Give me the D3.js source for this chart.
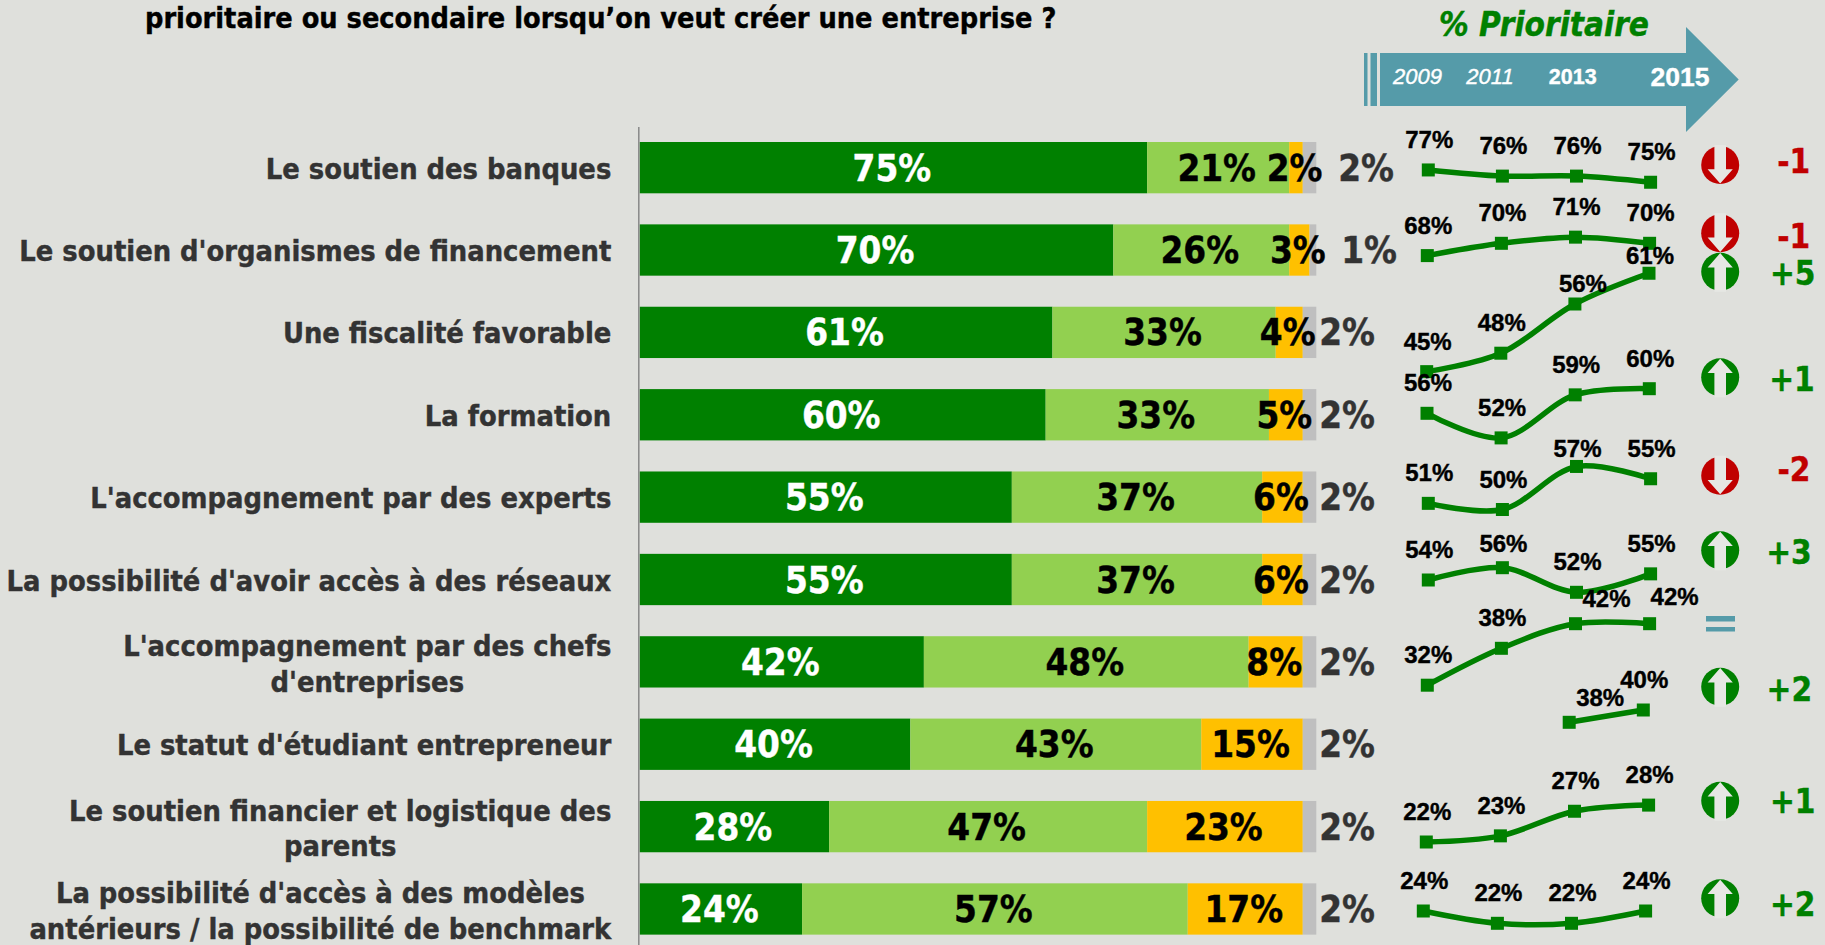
<!DOCTYPE html>
<html>
<head>
<meta charset="utf-8">
<title>% Prioritaire</title>
<style>
body{margin:0;background-color:#dfe0dc;overflow:hidden}
text{font-family:"DejaVu Sans Condensed","DejaVu Sans";font-stretch:condensed;font-weight:bold}
.arial{font-family:"Liberation Sans";font-stretch:normal}
</style>
<script src="https://d3js.org/d3.v7.min.js"></script>
</head>
<body>
<div id="chart"></div>
<script>
// data
var categories = [
    "Le soutien des banques",
    "Le soutien d'organismes de financement",
    "Une fiscalité favorable",
    "La formation",
    "L'accompagnement par des experts",
    "La possibilité d'avoir accès à des réseaux",
    "L'accompagnement par des chefs|d'entreprises",
    "Le statut d'étudiant entrepreneur",
    "Le soutien financier et logistique des|parents",
    "La possibilité d'accès à des modèles|antérieurs / la possibilité de benchmark"
];
var prioritaire = [75, 70, 61, 60, 55, 55, 42, 40, 28, 24];
var secondaire = [21, 26, 33, 33, 37, 37, 48, 43, 47, 57];
var pasPrioritaire = [2, 3, 4, 5, 6, 6, 8, 15, 23, 17];
var nsp = [2, 1, 2, 2, 2, 2, 2, 2, 2, 2];

var years = ["2009", "2011", "2013", "2015"];
var trend = [
    [77, 76, 76, 75],
    [68, 70, 71, 70],
    [45, 48, 56, 61],
    [56, 52, 59, 60],
    [51, 50, 57, 55],
    [54, 56, 52, 55],
    [32, 38, 42, 42],
    [null, null, 38, 40],
    [22, 23, 27, 28],
    [24, 22, 22, 24]
];
var deltas = ["-1", "-1", "+5", "+1", "-2", "+3", "=", "+2", "+1", "+2"];

// layout
var width = 1825, height = 945;
var colors = ["#008000", "#92d050", "#ffc000", "#bfbfbf"];
var textColors = ["#fff", "#000", "#000", "#333"];
var teal = "#559ba9";
var lineBase = [643.5, 673.8, 648.4, 757.7, 817, 912.1, 882, 956, 977.3, 1058.6]; // y of 0% for each little line
var lineShift = [1.3, 0.3, -0.3, 0, 1.3, 1.3, 0.3, -6, -0.7, -3.7];
var badgeY = [165, 233.3, 271.7, 377.3, 475.7, 550.3, 623.5, 686.7, 800.7, 898.3];
var deltaY = [172.7, 248.3, 285.3, 390.7, 480.7, 564, 0, 700.7, 813.3, 916];
var deltaX = [1793.7, 1793.7, 1792.7, 1792, 1794, 1789, 0, 1789.3, 1792.7, 1792.7];
var nspX = [1366, 1369, 1347, 1347, 1347, 1347, 1347, 1347, 1347, 1347];
// labels that were moved by hand in the original: "row,point": [dx, dy]
var labelMoves = {"2,2": [7, 10], "2,3": [0, 13], "4,2": [0, 13], "5,1": [0, 6], "6,2": [30, 5], "6,3": [24, 3], "7,2": [30, 6]};

var svg = d3.select("#chart").append("svg")
    .attr("width", width)
    .attr("height", height)
    .style("display", "block");

var x = d3.scaleLinear().domain([0, 100]).range([639.7, 1316.3]);
var step = 82.37, barH = 51.3;
var y = d3.scaleBand().domain(categories)
    .range([142 - (step - barH) / 2, 142 - (step - barH) / 2 + step * 10])
    .paddingInner((step - barH) / step)
    .paddingOuter((step - barH) / step / 2);
var xYear = d3.scalePoint().domain(years).range([1427, 1649.3]);

// title
svg.append("text")
    .attr("x", 145)
    .attr("y", 28)
    .attr("font-size", 28.6)
    .attr("fill", "#000")
    .text("prioritaire ou secondaire lorsqu’on veut créer une entreprise ?");

// stacked bars
var series = [prioritaire, secondaire, pasPrioritaire, nsp];
var rows = categories.map(function(c, i) {
    var sum = 0;
    return series.map(function(s, k) {
        var seg = {cat: c, row: i, k: k, v: s[i], x0: sum, x1: sum + s[i]};
        sum += s[i];
        return seg;
    });
});
var segs = d3.merge(rows);

svg.selectAll("rect.seg").data(segs).enter().append("rect")
    .attr("class", "seg")
    .attr("x", function(d) { return x(d.x0); })
    .attr("y", function(d) { return y(d.cat); })
    .attr("width", function(d) { return x(d.x1) - x(d.x0); })
    .attr("height", y.bandwidth())
    .attr("fill", function(d) { return colors[d.k]; });

svg.selectAll("text.seg").data(segs).enter().append("text")
    .attr("class", "seg")
    .attr("text-anchor", "middle")
    .attr("font-size", 36.5)
    .attr("x", function(d) { return d.k == 3 ? nspX[d.row] : (x(d.x0) + x(d.x1)) / 2 - 1.5; })
    .attr("y", function(d) { return y(d.cat) + y.bandwidth() / 2 + 13; })
    .attr("fill", function(d) { return textColors[d.k]; })
    .text(function(d) { return d.v + "%"; });

// category axis
var axis = svg.append("g")
    .attr("transform", "translate(638.3,0)")
    .call(d3.axisLeft(y).tickSize(0).tickPadding(27));
axis.select(".domain").attr("stroke", "#888").attr("stroke-width", 1.5);
axis.selectAll("text")
    .attr("font-family", null)
    .attr("font-size", 28.75)
    .attr("fill", "#333")
    .each(function(d) {
        var parts = d.split("|");
        var t = d3.select(this).text(null).attr("dy", null);
        var spans = parts.map(function(p, i) {
            return t.append("tspan")
                .attr("y", parts.length > 1 ? (i - 0.5) * 35.5 + 12 : 11)
                .text(p);
        });
        // two line labels are centred on their longest line
        var maxW = d3.max(spans, function(s) { return s.node().getComputedTextLength(); });
        if (parts.length > 1) t.attr("text-anchor", "middle");
        spans.forEach(function(s) { s.attr("x", parts.length > 1 ? -27 - maxW / 2 : -27); });
    });

// arrow header
var arrowG = svg.append("g").attr("fill", teal);
arrowG.append("rect").attr("x", 1364).attr("y", 53).attr("width", 3.5).attr("height", 53);
arrowG.append("rect").attr("x", 1370.5).attr("y", 53).attr("width", 6.5).attr("height", 53);
arrowG.append("path").attr("d", d3.line()([[1380, 53], [1686, 53], [1686, 27], [1738.7, 79.5], [1686, 132], [1686, 106], [1380, 106]]) + "Z");

svg.append("text")
    .attr("x", 1544).attr("y", 36)
    .attr("text-anchor", "middle")
    .attr("font-size", 33)
    .attr("font-style", "italic")
    .attr("fill", "#008000")
    .text("% Prioritaire");

var yearX = [1417.5, 1490, 1572.7, 1680];
var yearSize = [22, 22, 21.5, 26.5];
svg.selectAll("text.year").data(years).enter().append("text")
    .attr("class", "year arial")
    .attr("text-anchor", "middle")
    .attr("fill", "#fff")
    .attr("x", function(d, i) { return yearX[i]; })
    .attr("y", function(d, i) { return i == 3 ? 86 : 83.5; })
    .attr("font-size", function(d, i) { return yearSize[i]; })
    .attr("font-style", function(d, i) { return i < 2 ? "italic" : "normal"; })
    .style("font-weight", function(d, i) { return i < 2 ? "normal" : "bold"; })
    .text(function(d) { return d; });

// little trend lines
trend.forEach(function(vals, r) {
    var yv = d3.scaleLinear().domain([0, 100]).range([lineBase[r], lineBase[r] - 615]);
    var pts = vals.map(function(v, i) {
        return {v: v, i: i, px: xYear(years[i]) + lineShift[r], py: v === null ? 0 : yv(v)};
    }).filter(function(d) { return d.v !== null; });
    var g = svg.append("g");

    g.append("path")
        .attr("fill", "none")
        .attr("stroke", "#008000")
        .attr("stroke-width", 5.5)
        .attr("d", d3.line()
            .x(function(d) { return d.px; })
            .y(function(d) { return d.py; })
            .curve(d3.curveCatmullRom.alpha(0.5))(pts));

    g.selectAll("rect").data(pts).enter().append("rect")
        .attr("x", function(d) { return d.px - 6.5; })
        .attr("y", function(d) { return d.py - 6.5; })
        .attr("width", 13)
        .attr("height", 13)
        .attr("fill", "#008000");

    g.selectAll("text").data(pts).enter().append("text")
        .attr("class", "arial")
        .attr("text-anchor", "middle")
        .attr("font-size", 24)
        .attr("fill", "#000")
        .attr("x", function(d) {
            var m = labelMoves[r + "," + d.i];
            return d.px + 1 + (m ? m[0] : 0);
        })
        .attr("y", function(d) {
            var m = labelMoves[r + "," + d.i];
            return d.py - 22 + (m ? m[1] : 0);
        })
        .text(function(d) { return d.v + "%"; });
});

// up and down badges with the change since last time
deltas.forEach(function(d, r) {
    var cx = 1720.2, cy = badgeY[r];
    if (d == "=") {
        svg.append("rect").attr("x", 1706).attr("y", 616).attr("width", 29).attr("height", 5.5).attr("fill", teal);
        svg.append("rect").attr("x", 1706).attr("y", 627).attr("width", 29).attr("height", 4.5).attr("fill", teal);
        return;
    }
    var up = d.charAt(0) == "+";
    var col = up ? "#008000" : "#c00000";
    var s = up ? -1 : 1;
    svg.append("circle").attr("cx", cx).attr("cy", cy).attr("r", 19).attr("fill", col);
    var shape = [[-5.8, -20], [5.8, -20], [5.8, 4.3], [12.6, 4.3], [0, 18.6], [-12.6, 4.3], [-5.8, 4.3]];
    svg.append("path")
        .attr("fill", "#e6e7e3")
        .attr("d", d3.line()
            .x(function(p) { return cx + p[0]; })
            .y(function(p) { return cy + s * p[1]; })(shape) + "Z");
    svg.append("text")
        .attr("x", deltaX[r])
        .attr("y", deltaY[r])
        .attr("text-anchor", "middle")
        .attr("font-size", 33)
        .attr("fill", col)
        .text(d);
});

// the reference text is a bit heavier than plain bold
svg.selectAll("text").each(function() {
    var t = d3.select(this);
    t.attr("stroke", t.attr("fill")).attr("stroke-width", 0.4);
});
</script>
</body>
</html>
